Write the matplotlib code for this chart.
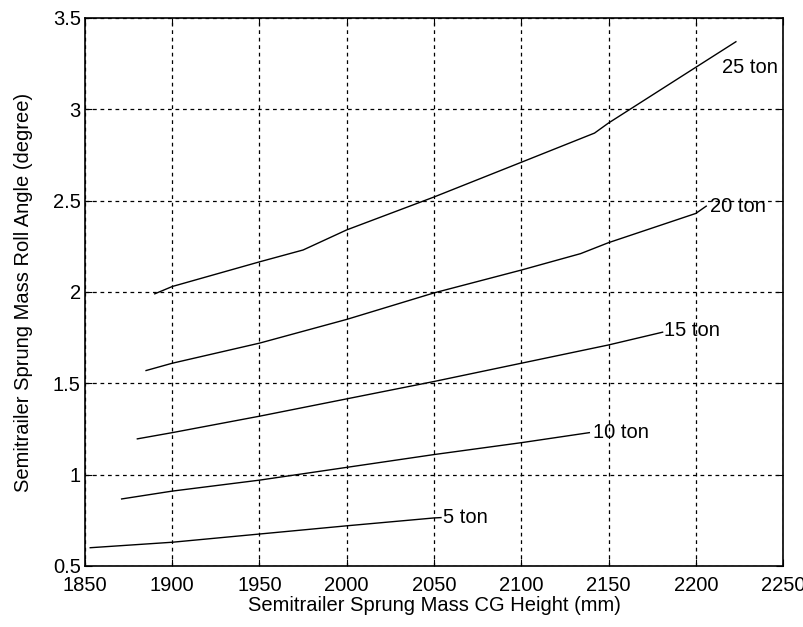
import matplotlib.pyplot as plt
import numpy as np

plt.rcParams['font.family'] = ['Liberation Sans', 'DejaVu Sans']

# CG height (mm) and roll angle (degree)
x_25 = [1890, 1900, 1950, 1975, 2000, 2050, 2100, 2142, 2150, 2200, 2223]
y_25 = [1.99, 2.03, 2.165, 2.23, 2.34, 2.52, 2.71, 2.87, 2.925, 3.23, 3.37]

x_20 = [1885, 1900, 1950, 2000, 2050, 2100, 2134, 2150, 2200, 2206]
y_20 = [1.57, 1.61, 1.72, 1.85, 1.995, 2.12, 2.21, 2.27, 2.43, 2.47]

x_15 = [1880, 1900, 1950, 2000, 2050, 2100, 2150, 2181]
y_15 = [1.196, 1.23, 1.32, 1.415, 1.51, 1.61, 1.71, 1.78]

x_10 = [1871, 1900, 1950, 2000, 2050, 2100, 2139]
y_10 = [0.867, 0.91, 0.97, 1.04, 1.11, 1.175, 1.23]

x_5 = [1853, 1900, 1950, 2000, 2050, 2054]
y_5 = [0.60, 0.63, 0.675, 0.72, 0.763, 0.765]

series = [(x_5, y_5, '5 ton'), (x_10, y_10, '10 ton'), (x_15, y_15, '15 ton'),
          (x_20, y_20, '20 ton'), (x_25, y_25, '25 ton')]

fs = 14.5

fig = plt.figure(figsize=(8.04, 6.27), dpi=100)
ax = fig.add_axes([0.1057, 0.0973, 0.8682, 0.874])

for xs, ys, name in series:
    ax.plot(xs, ys, color='black', linewidth=1.0)

# labels placed at the line ends, as in the original
ax.text(2055, 0.765, '5 ton', fontsize=fs, va='center', ha='left')
ax.text(2141, 1.23, '10 ton', fontsize=fs, va='center', ha='left')
ax.text(2182, 1.79, '15 ton', fontsize=fs, va='center', ha='left')
ax.text(2208, 2.47, '20 ton', fontsize=fs, va='center', ha='left')
ax.text(2215, 3.23, '25 ton', fontsize=fs, va='center', ha='left')

ax.set_xlim(1850, 2250)
ax.set_ylim(0.5, 3.5)
ax.set_xticks(np.arange(1850, 2251, 50))
ax.set_yticks([0.5, 1, 1.5, 2, 2.5, 3, 3.5])
ax.set_yticklabels(['0.5', '1', '1.5', '2', '2.5', '3', '3.5'])
ax.tick_params(direction='in', top=True, right=True, labelsize=fs, length=5, pad=3)
ax.tick_params(axis='x', pad=7)
ax.grid(True, color='black', linestyle=(0, (3, 3)), linewidth=0.9)
for s in ax.spines.values():
    s.set_linewidth(1.2)

ax.set_xlabel('Semitrailer Sprung Mass CG Height (mm)', fontsize=fs, labelpad=1)
ax.set_ylabel('Semitrailer Sprung Mass Roll Angle (degree)', fontsize=fs, labelpad=14)

plt.savefig('out.png', dpi=100)
